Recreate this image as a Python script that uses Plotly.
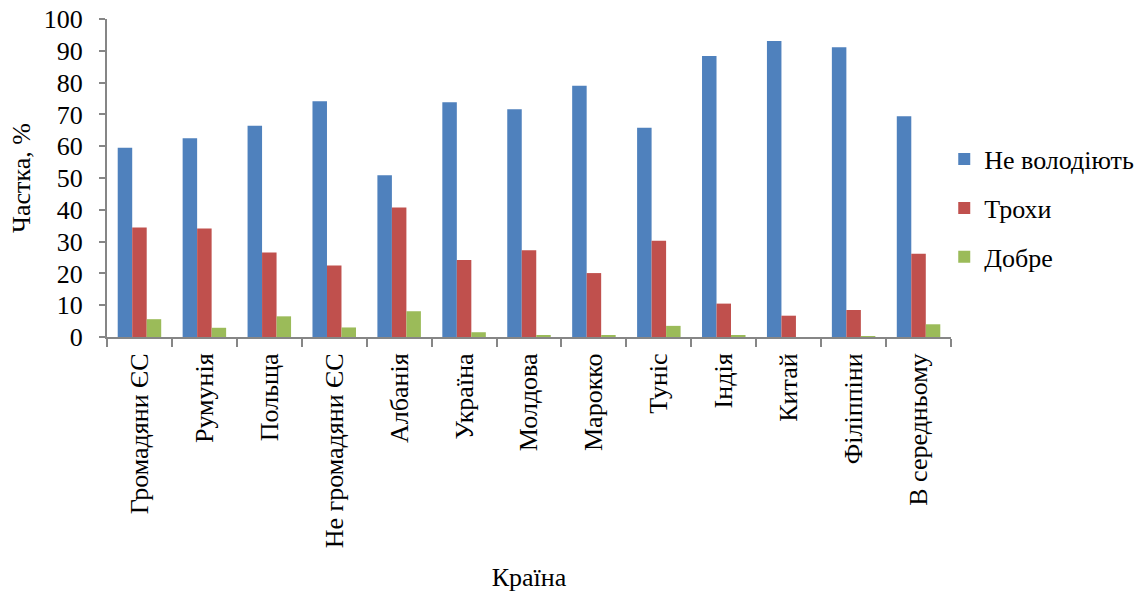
import plotly.graph_objects as go

categories = ["Громадяни ЄС", "Румунія", "Польща", "Не громадяни ЄС", "Албанія",
              "Україна", "Молдова", "Марокко", "Туніс", "Індія", "Китай",
              "Філіппіни", "В середньому"]
ne_volodiyut = [59.5, 62.5, 66.4, 74.1, 50.9, 73.8, 71.6, 79.0, 65.8, 88.4, 93.1, 91.1, 69.4]
trokhy = [34.4, 34.1, 26.6, 22.5, 40.7, 24.2, 27.3, 20.1, 30.3, 10.5, 6.7, 8.5, 26.2]
dobre = [5.6, 2.9, 6.5, 3.0, 8.1, 1.5, 0.6, 0.5, 3.5, 0.5, 0.0, 0.2, 4.0]

series = [("Не володіють", ne_volodiyut, "#4F81BD"),
          ("Трохи", trokhy, "#C0504D"),
          ("Добре", dobre, "#9BBB59")]

fig = go.Figure()
for i, (name, vals, color) in enumerate(series):
    fig.add_trace(go.Bar(x=categories, y=vals, name=name, legendgroup=f"g{i}",
                         marker=dict(color=color, line=dict(width=0))))

font = "Liberation Serif"
fs = 26
fig.update_layout(
    width=1143, height=594,
    margin=dict(l=107, r=192, t=19, b=257, autoexpand=False),
    paper_bgcolor="white", plot_bgcolor="white",
    font=dict(family=font, size=fs, color="black"),
    barmode="group", bargap=0.33, bargroupgap=0,
    showlegend=True,
    legend=dict(x=0.992, y=0.405, yanchor="middle", xanchor="left",
                font=dict(family=font, size=fs), tracegroupgap=12, itemwidth=30),
)
fig.update_xaxes(
    type="category", showline=True, linecolor="#868686", linewidth=2,
    ticks="outside", tickson="boundaries", ticklen=8, tickcolor="#868686", tickwidth=2,
    tickangle=-90, tickfont=dict(family=font, size=fs), automargin=False,
    ticklabelstandoff=4, ticklabeloverflow="allow",
    title=dict(text="Країна", font=dict(family=font, size=fs), standoff=21),
)
fig.update_yaxes(
    range=[0, 100], dtick=10, showgrid=False, zeroline=False,
    showline=True, linecolor="#868686", linewidth=2,
    ticks="outside", ticklen=6, tickcolor="#868686", tickwidth=2,
    tickfont=dict(family=font, size=fs), automargin=False,
    ticklabelstandoff=11, ticklabeloverflow="allow",
    title=dict(text="Частка, %", font=dict(family=font, size=fs), standoff=6),
)
fig.write_html("out.html", config={"displayModeBar": False},
               post_script="document.body.style.margin='0';")
